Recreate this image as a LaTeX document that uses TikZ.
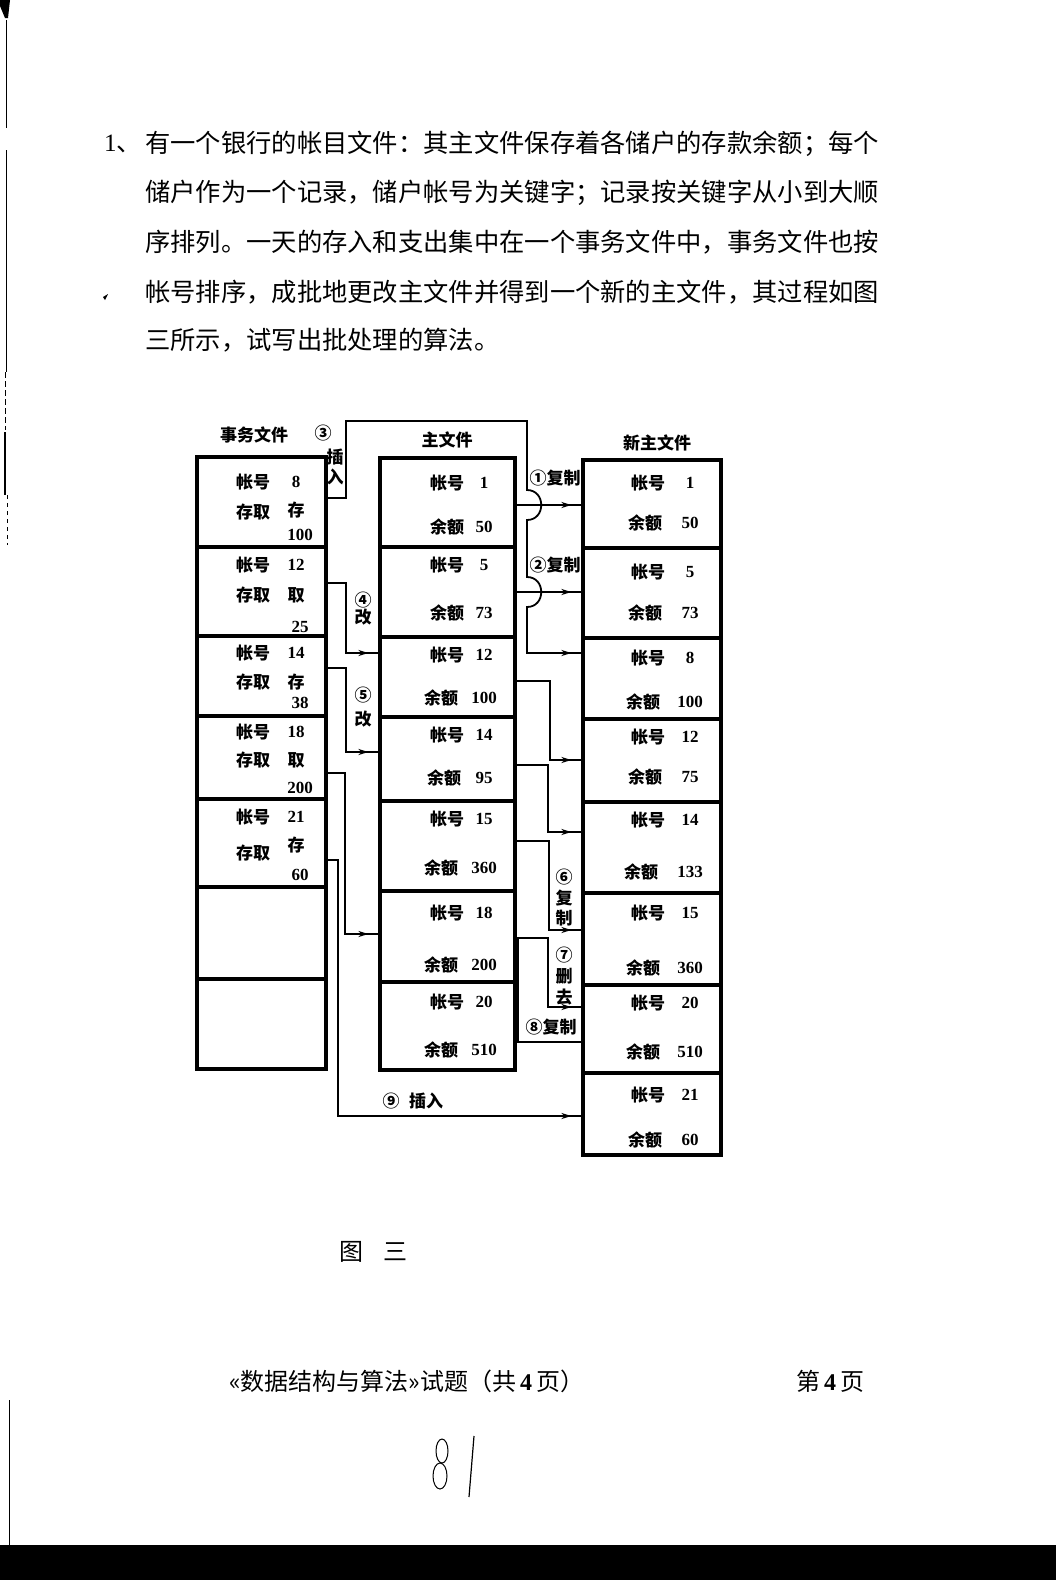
\documentclass[tikz,border=0pt]{standalone}
\usepackage{fontspec}
\newfontfamily\cjk{Noto Sans CJK SC}
\newfontfamily\numf{Liberation Serif}
\usetikzlibrary{arrows.meta,decorations.markings}

\tikzset{
  cell/.style={draw, line width=3.2pt, inner sep=0pt},
  conn/.style={line width=1.8pt},
  tipmark/.style={postaction={decorate},
    decoration={markings, mark=at position -10pt with {\arrow{Stealth[length=10pt,width=6pt]}}}},
  lbl/.style={font=\cjk\bfseries\fontsize{17}{17}\selectfont, inner sep=0pt},
  val/.style={font=\numf\bfseries\fontsize{17}{17}\selectfont, inner sep=0pt},
  body/.style={font=\cjk\fontsize{25.3}{25.3}\selectfont, inner sep=0pt, anchor=west},
  foot/.style={font=\cjk\fontsize{24}{24}\selectfont, inner sep=0pt},
}

\begin{document}
\begin{tikzpicture}[x=1pt,y=-1pt]
\useasboundingbox (0,0) rectangle (1056,1580);
\fill[white] (0,0) rectangle (1056,1580);

% ---------- question text ----------
\node[font=\numf\fontsize{25}{25}\selectfont, inner sep=0pt, anchor=west] (qnum) at (104,144) {1\cjk 、};
\node[body] (q1) at (145,144) {有一个银行的帐目文件：其主文件保存着各储户的存款余额；每个};
\node[body] (q2) at (145,193) {储户作为一个记录，储户帐号为关键字；记录按关键字从小到大顺};
\node[body] (q3) at (145,242) {序排列。一天的存入和支出集中在一个事务文件中，事务文件也按};
\node[body] (q4) at (145,292) {帐号排序，成批地更改主文件并得到一个新的主文件，其过程如图};
\node[body] (q5) at (145,340) {三所示，试写出批处理的算法。};

% ---------- column headings ----------
\node[lbl] (hT) at (254,435) {事务文件};
\node[lbl] (hM) at (447,440) {主文件};
\node[lbl] (hN) at (657,443) {新主文件};

% ---------- transaction file ----------
\node[cell, minimum width=129pt, minimum height=90pt] (t1) at (261.5,502) {};
\node[cell, minimum width=129pt, minimum height=89pt] (t2) at (261.5,591.5) {};
\node[cell, minimum width=129pt, minimum height=80pt] (t3) at (261.5,676) {};
\node[cell, minimum width=129pt, minimum height=83pt] (t4) at (261.5,757.5) {};
\node[cell, minimum width=129pt, minimum height=88pt] (t5) at (261.5,843) {};
\node[cell, minimum width=129pt, minimum height=92pt] (t6) at (261.5,933) {};
\node[cell, minimum width=129pt, minimum height=90pt] (t7) at (261.5,1024) {};

\foreach \n/\ka/\kv/\sa/\op/\ya/\yb/\yo in {
  1/8/100/535/存/482/512/510,
  2/12/25/627/取/565/595/595,
  3/14/38/703/存/653/682/682,
  4/18/200/788/取/732/760/760,
  5/21/60/875/存/817/853/845}{
  \node[lbl] (t\n k) at (253,\ya) {帐号};
  \node[val] (t\n kv) at (296,\ya) {\ka};
  \node[lbl] (t\n s) at (253,\yb) {存取};
  \node[lbl] (t\n o) at (296,\yo) {\op};
  \node[val] (t\n a) at (300,\sa) {\kv};
}

% ---------- master file ----------
\node[cell, minimum width=135pt, minimum height=89pt] (m1) at (447.5,502.5) {};
\node[cell, minimum width=135pt, minimum height=90pt] (m2) at (447.5,592) {};
\node[cell, minimum width=135pt, minimum height=80pt] (m3) at (447.5,677) {};
\node[cell, minimum width=135pt, minimum height=84pt] (m4) at (447.5,759) {};
\node[cell, minimum width=135pt, minimum height=90pt] (m5) at (447.5,846) {};
\node[cell, minimum width=135pt, minimum height=91pt] (m6) at (447.5,936.5) {};
\node[cell, minimum width=135pt, minimum height=88pt] (m7) at (447.5,1026) {};

\foreach \n/\ka/\ya/\bv/\yb/\bx in {
  1/1/483/50/527/447, 2/5/565/73/613/447, 3/12/655/100/698/441,
  4/14/735/95/778/444, 5/15/819/360/868/441, 6/18/913/200/965/441,
  7/20/1002/510/1050/441}{
  \node[lbl] (m\n k) at (447,\ya) {帐号};
  \node[val] (m\n kv) at (484,\ya) {\ka};
  \node[lbl] (m\n b) at (\bx,\yb) {余额};
  \node[val] (m\n bv) at (484,\yb) {\bv};
}

% ---------- new master file ----------
\node[cell, minimum width=138pt, minimum height=88pt] (n1) at (652,504) {};
\node[cell, minimum width=138pt, minimum height=90pt] (n2) at (652,593) {};
\node[cell, minimum width=138pt, minimum height=81pt] (n3) at (652,678.5) {};
\node[cell, minimum width=138pt, minimum height=83pt] (n4) at (652,760.5) {};
\node[cell, minimum width=138pt, minimum height=91pt] (n5) at (652,847.5) {};
\node[cell, minimum width=138pt, minimum height=92pt] (n6) at (652,939) {};
\node[cell, minimum width=138pt, minimum height=88pt] (n7) at (652,1029) {};
\node[cell, minimum width=138pt, minimum height=82pt] (n8) at (652,1114) {};

\foreach \n/\ka/\ya/\bv/\yb/\bx in {
  1/1/483/50/523/645, 2/5/572/73/613/645, 3/8/658/100/702/643,
  4/12/737/75/777/645, 5/14/820/133/872/641, 6/15/913/360/968/643,
  7/20/1003/510/1052/643, 8/21/1095/60/1140/645}{
  \node[lbl] (n\n k) at (648,\ya) {帐号};
  \node[val] (n\n kv) at (690,\ya) {\ka};
  \node[lbl] (n\n b) at (\bx,\yb) {余额};
  \node[val] (n\n bv) at (690,\yb) {\bv};
}

% ---------- connectors: transaction file -> master / new master ----------
% 3: insert account 8, hopping over the copy lines 1 and 2
\draw[conn, tipmark] (t1.east |- 0,498) -- (346,498) -- (346,421) -- (527,421) -- (527,490)
  .. controls (546,490) and (546,520) .. (527,520) -- (527,577)
  .. controls (546,577) and (546,607) .. (527,607) -- (527,653) -- (n3.west |- 0,653);
% 4, 5: change
\draw[conn, tipmark] (t2.east |- 0,583) -- (346,583) -- (346,653) -- (m3.west |- 0,653);
\draw[conn, tipmark] (t3.east |- 0,668) -- (346,668) -- (346,752) -- (m4.west |- 0,752);
% account 18 withdrawal
\draw[conn, tipmark] (t4.east |- 0,773) -- (345,773) -- (345,934) -- (m6.west |- 0,934);
% 9: insert account 21
\draw[conn, tipmark] (t5.east |- 0,860) -- (338,860) -- (338,1116) -- (n8.west |- 0,1116);

% ---------- connectors: master -> new master ----------
\draw[conn, tipmark] (m1.east |- 0,505) -- (n1.west |- 0,505);
\draw[conn, tipmark] (m2.east |- 0,592) -- (n2.west |- 0,592);
\draw[conn, tipmark] (m3.east |- 0,681) -- (550,681) -- (550,760) -- (n4.west |- 0,760);
\draw[conn, tipmark] (m4.east |- 0,765) -- (548,765) -- (548,832) -- (n5.west |- 0,832);
\draw[conn, tipmark] (m5.east |- 0,841) -- (549,841) -- (549,930) -- (n6.west |- 0,930);
\draw[conn, tipmark] (m6.east |- 0,938) -- (548,938) -- (548,1007) -- (n7.west |- 0,1007);
\draw[conn] (m6.east |- 0,938) -| (518,1042) -- (n7.west |- 0,1042);

% ---------- step labels ----------
\node[lbl] (s3) at (323,433) {③};
\node[lbl] (s3a) at (335,457) {插};
\node[lbl] (s3b) at (335,477) {入};
\node[lbl] (s1) at (555,478) {①复制};
\node[lbl] (s2) at (555,565) {②复制};
\node[lbl] (s4) at (363,600) {④};
\node[lbl] (s4a) at (363,617) {改};
\node[lbl] (s5) at (363,695) {⑤};
\node[lbl] (s5a) at (363,719) {改};
\node[lbl] (s6) at (564,877) {⑥};
\node[lbl] (s6a) at (564,898) {复};
\node[lbl] (s6b) at (564,918) {制};
\node[lbl] (s7) at (564,955) {⑦};
\node[lbl] (s7a) at (564,976) {删};
\node[lbl] (s7b) at (564,997) {去};
\node[lbl] (s8) at (551,1027) {⑧复制};
\node[lbl] (s9) at (391,1101) {⑨};
\node[lbl] (s9a) at (426,1101) {插入};

% ---------- caption and footer ----------
\node[foot] (cap1) at (351,1252) {图};
\node[foot] (cap2) at (395,1252) {三};
\node[foot, anchor=west] (ft1) at (229,1381) {«数据结构与算法»试题（共\,{\numf\bfseries 4}\,页）};
\node[foot, anchor=west] (ft2) at (796,1381) {第\,{\numf\bfseries 4}\,页};

% handwritten page number
\draw[line width=1pt] (442,1451) ellipse [x radius=6, y radius=12];
\draw[line width=1pt] (440,1476) ellipse [x radius=7, y radius=13];
\draw[line width=1.2pt] (474,1436) -- (469,1497);

% page edge marks
\fill (0,0) -- (10,0) -- (8,18) -- (5,18) -- (0,6) -- cycle;
\draw[line width=1pt] (6,20) -- (6,128);
\draw[line width=1pt] (6,150) -- (6,372);
\draw[line width=1pt, dash pattern=on 6pt off 3pt] (5,372) -- (5,430);
\draw[line width=2.5pt] (5,432) -- (5,495);
\draw[line width=1pt, dash pattern=on 4pt off 4pt] (7,495) -- (7,545);
\draw[line width=1pt] (9,1400) -- (9,1545);
\fill (103,297) -- (108,294) -- (105,300) -- cycle;

% bottom band
\fill (0,1545) rectangle (1056,1580);
\end{tikzpicture}
\end{document}
